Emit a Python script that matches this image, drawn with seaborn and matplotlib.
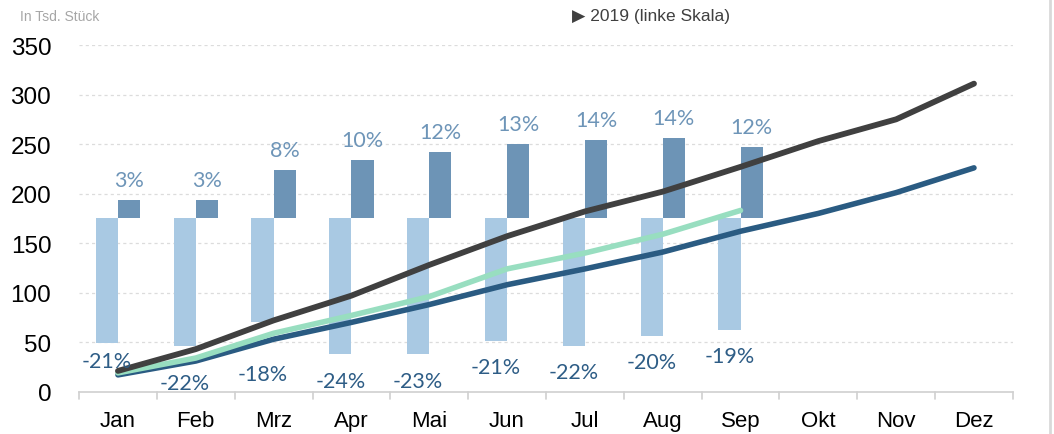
import numpy as np
import pandas as pd
import matplotlib
matplotlib.use("Agg")
import matplotlib.pyplot as plt
import seaborn as sns
from matplotlib.lines import Line2D

# ---------------- data ----------------
months = ["Jan", "Feb", "Mrz", "Apr", "Mai", "Jun", "Jul", "Aug", "Sep", "Okt", "Nov", "Dez"]
line_gray = [21, 43, 72, 97, 128, 157, 182, 202, 227, 253, 275, 311]
line_blue = [17, 31, 53, 70, 88, 108, 124, 141, 162, 180, 201, 226]
line_green = [19, 34, 59, 77, 96, 124, 140, 159, 183]
bar_base = 175
bar_low = [49, 46, 70, 38, 38, 51, 46, 56, 62]          # light bars: from base down to these values
bar_high = [194, 194, 224, 234, 242, 250, 254, 256, 247]  # dark bars: from base up to these values
neg_labels = ["-21%", "-22%", "-18%", "-24%", "-23%", "-21%", "-22%", "-20%", "-19%"]
pos_labels = ["3%", "3%", "8%", "10%", "12%", "13%", "14%", "14%", "12%"]
y_ticks = [0, 50, 100, 150, 200, 250, 300, 350]

# label placement (layout only)
neg_label_y = [31, 9, 18, 11, 11, 25, 20, 30, 36]

# ---------------- style ----------------
sns.set_theme(style="white")
plt.rcParams["font.family"] = ["Liberation Sans", "DejaVu Sans"]

C_LIGHT = "#A9C9E3"
C_DARK = "#6D94B6"
C_GRAY = "#404040"
C_BLUE = "#2A5B82"
C_GREEN = "#98DEC0"
C_NEG_TXT = "#2E5D86"
C_POS_TXT = "#6E95B8"

fig = plt.figure(figsize=(10.54, 4.35), dpi=100)
ax = fig.add_axes([0.075, 0.0972, 0.886, 0.797])

n = len(months)
x_all = np.arange(n)
nb = len(bar_low)
xb = np.arange(nb)
w = 0.285

# bars
ax.bar(xb - w / 2, np.array(bar_low) - bar_base, bottom=bar_base, width=w,
       color=C_LIGHT, linewidth=0, zorder=2)
ax.bar(xb + w / 2, np.array(bar_high) - bar_base, bottom=bar_base, width=w,
       color=C_DARK, linewidth=0, zorder=2)

# lines
df_gray = pd.DataFrame({"x": x_all, "y": line_gray})
df_blue = pd.DataFrame({"x": x_all, "y": line_blue})
df_green = pd.DataFrame({"x": np.arange(len(line_green)), "y": line_green})
sns.lineplot(data=df_blue, x="x", y="y", ax=ax, color=C_BLUE, linewidth=4.0,
             solid_capstyle="round", zorder=4)
sns.lineplot(data=df_green, x="x", y="y", ax=ax, color=C_GREEN, linewidth=4.0,
             solid_capstyle="round", zorder=5)
sns.lineplot(data=df_gray, x="x", y="y", ax=ax, color=C_GRAY, linewidth=4.2,
             solid_capstyle="round", zorder=6)

# labels
lbl_font = ["Lato", "Roboto", "DejaVu Sans"]
for i in range(nb):
    ax.text(xb[i] + w / 2, bar_high[i] + 10, pos_labels[i], ha="center", va="bottom",
            fontsize=15.5, color=C_POS_TXT, family=lbl_font, zorder=7)
    ax.text(xb[i] - w / 2, neg_label_y[i], neg_labels[i], ha="center", va="center",
            fontsize=15.5, color=C_NEG_TXT, family=lbl_font, zorder=7)

# axes
ax.set_xlim(-0.5, n - 0.5)
ax.set_ylim(0, 350)
ax.set_yticks(y_ticks)
ax.set_yticklabels([str(v) for v in y_ticks], fontsize=17.5, color="black")
ax.set_xticks(x_all)
ax.set_xticklabels(months, fontsize=16, color="black")
ax.tick_params(axis="y", length=0, pad=20)
ax.tick_params(axis="x", length=0, pad=13)
ax.set_xlabel("")
ax.set_ylabel("")

for v in y_ticks[1:]:
    ax.axhline(v, color="#DCDCDC", linewidth=0.9, linestyle=(0, (2.5, 2.5)), zorder=1)

for s in ["top", "right", "left"]:
    ax.spines[s].set_visible(False)
ax.spines["bottom"].set_color("#D0D0D0")
ax.spines["bottom"].set_linewidth(1.2)

# category separator ticks
for b in np.arange(-0.5, n, 1.0):
    ax.plot([b, b], [0, -7], color="#D0D0D0", linewidth=1.2, clip_on=False, zorder=1)

# header texts
fig.text(20 / 1054, 1 - 17 / 435, "In Tsd. Stück", fontsize=10, color="#A6A6A6",
         ha="left", va="center", family=["Liberation Sans Narrow", "Liberation Sans", "DejaVu Sans"])
fig.text(572 / 1054, 1 - 17 / 435, "\u25B6 2019 (linke Skala)", fontsize=12.5, color="#404040",
         ha="left", va="center", family=["Liberation Sans Narrow", "Liberation Sans", "DejaVu Sans"])

# right border line
fig.add_artist(Line2D([1049.5 / 1054, 1049.5 / 1054], [0, 1], transform=fig.transFigure,
                      color="#D9D9D9", linewidth=2))

fig.savefig("out.png", dpi=100, facecolor="white")
